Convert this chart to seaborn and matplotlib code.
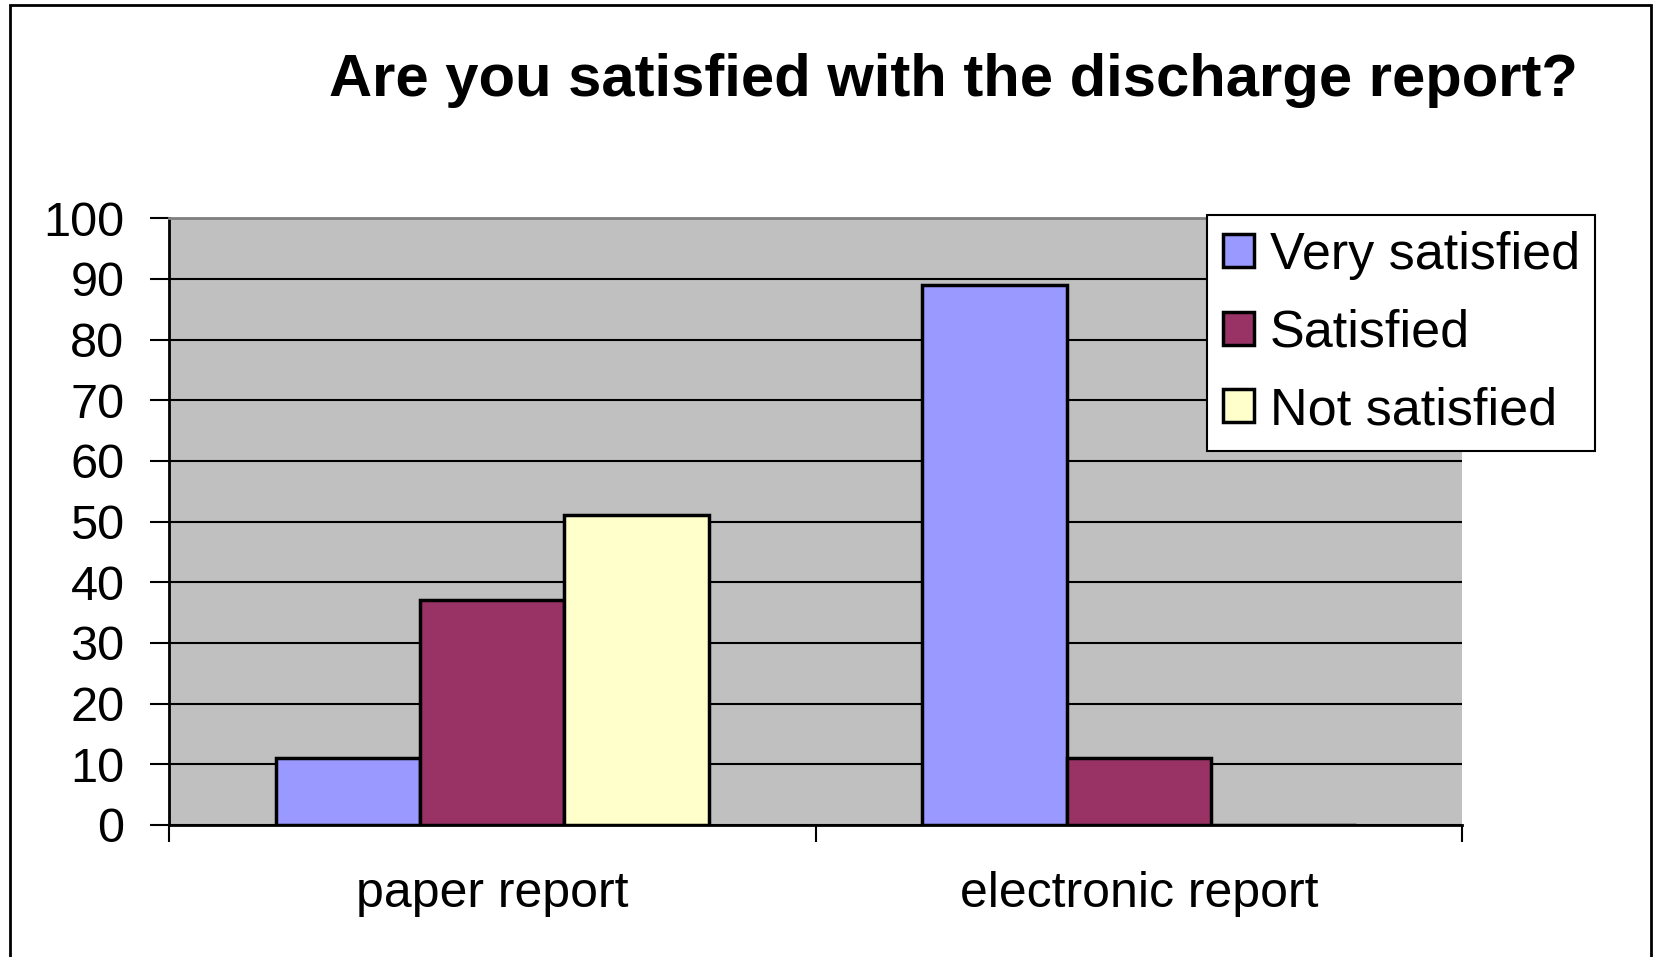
import matplotlib.pyplot as plt
import seaborn as sns
import pandas as pd
from matplotlib.patches import Rectangle

# Данные с картинки
reports = ['paper report', 'electronic report']
responses = ['Very satisfied', 'Satisfied', 'Not satisfied']
very_satisfied = [11, 89]
satisfied = [37, 11]
not_satisfied = [51, 0]
colors = ['#9999FF', '#993366', '#FFFFCC']

df = pd.DataFrame({
    'report': reports * 3,
    'response': [r for r in responses for _ in reports],
    'percent': very_satisfied + satisfied + not_satisfied,
})

sns.set_style('white')
plt.rcParams['font.family'] = ['Liberation Sans', 'DejaVu Sans']
plt.rcParams['text.color'] = 'black'
plt.rcParams['xtick.color'] = 'black'
plt.rcParams['ytick.color'] = 'black'

fig = plt.figure(figsize=(16.56, 9.57), dpi=100)
ax = fig.add_axes([0.102, 0.138, 0.781, 0.634])

sns.barplot(data=df, x='report', y='percent', hue='response', order=reports,
            hue_order=responses, palette=colors, edgecolor='black', linewidth=2.5,
            width=0.67, saturation=1, ax=ax, legend=True, zorder=3)

ax.set_facecolor('#C0C0C0')
ax.set_ylim(0, 100)
ax.set_xlim(-0.5, 1.5)
ax.set_yticks(range(0, 101, 10))
ax.yaxis.grid(True, color='black', linewidth=1.5, zorder=0)
ax.set_axisbelow(True)
ax.set_xlabel('')
ax.set_ylabel('')

for s in ['left', 'bottom']:
    ax.spines[s].set_color('black')
    ax.spines[s].set_linewidth(2)
ax.spines['top'].set_color('#808080')
ax.spines['top'].set_linewidth(2)
ax.spines['right'].set_visible(False)

ax.tick_params(axis='y', length=14, width=1.5, pad=18, labelsize=35, left=True)
ax.tick_params(axis='x', which='major', length=0, pad=33, labelsize=36)
ax.set_xticks([-0.5, 0.5, 1.5], minor=True)
ax.tick_params(axis='x', which='minor', length=12, width=1.5, bottom=True)

ax.legend_.remove()
handles, labels = ax.get_legend_handles_labels()
leg = fig.legend(handles, labels, loc='upper left', bbox_to_anchor=(0.729, 0.775),
                 fontsize=37.5, frameon=True, fancybox=False, framealpha=1,
                 edgecolor='black', handlelength=0.6, handleheight=0.6,
                 handletextpad=0.3, labelspacing=0.55, borderpad=0.3, borderaxespad=0)
leg.get_frame().set_linewidth(1.5)

fig.text(0.5755, 0.916, 'Are you satisfied with the discharge report?',
         ha='center', va='center', fontsize=43, fontweight='bold')

# рамка вокруг всего рисунка
fig.patches.append(Rectangle((10 / 1656, -0.05), 1641 / 1656, 1.05 - 5 / 957,
                             transform=fig.transFigure, fill=False,
                             edgecolor='black', linewidth=2))

fig.savefig('out.png', dpi=100)
